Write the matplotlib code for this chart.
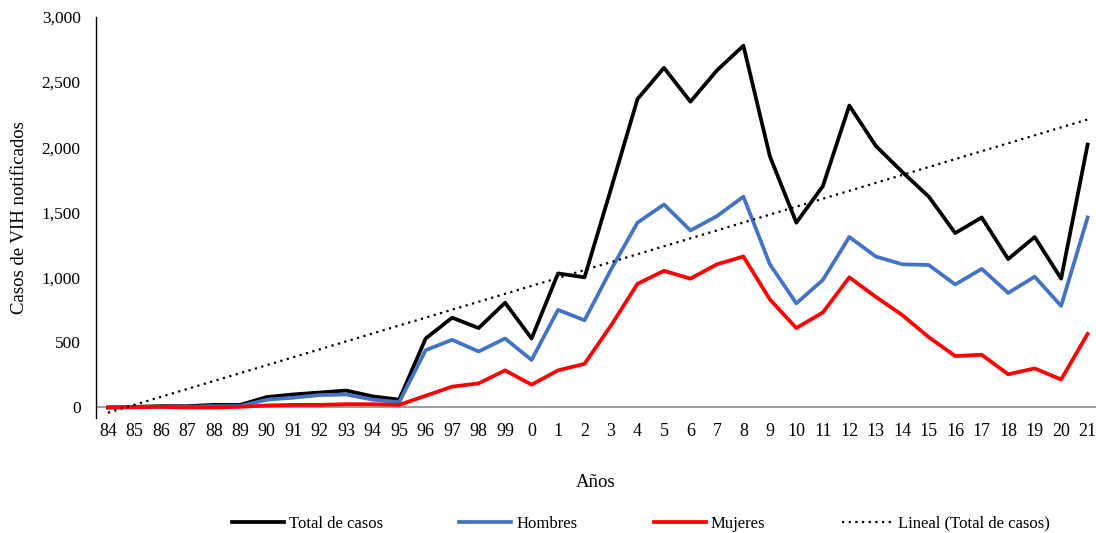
import numpy as np
import matplotlib
matplotlib.use("Agg")
import matplotlib.pyplot as plt
from matplotlib.ticker import FuncFormatter

plt.rcParams['font.family'] = ['Liberation Serif', 'DejaVu Serif']

years = ["84", "85", "86", "87", "88", "89", "90", "91", "92", "93", "94", "95",
         "96", "97", "98", "99", "0", "1", "2", "3", "4", "5", "6", "7", "8", "9",
         "10", "11", "12", "13", "14", "15", "16", "17", "18", "19", "20", "21"]

total = [0, 5, 10, 10, 20, 20, 80, 100, 115, 130, 85, 60,
         530, 690, 610, 805, 530, 1030, 1000, 1680, 2370, 2610, 2350, 2590, 2780, 1930,
         1420, 1700, 2320, 2010, 1810, 1620, 1340, 1460, 1140, 1310, 990, 2020]

hombres = [0, 3, 5, 5, 10, 10, 60, 75, 95, 100, 60, 40,
           440, 520, 430, 530, 365, 750, 670, 1060, 1420, 1560, 1360, 1470, 1620, 1100,
           800, 980, 1310, 1160, 1100, 1095, 945, 1065, 880, 1005, 780, 1460]

mujeres = [0, 2, 5, 0, 0, 5, 15, 20, 20, 25, 25, 20,
           90, 160, 185, 285, 175, 285, 335, 630, 950, 1050, 990, 1100, 1160, 830,
           610, 730, 1000, 850, 710, 540, 395, 405, 255, 300, 215, 565]

x = np.arange(len(years))
coef = np.polyfit(x, total, 1)
trend = np.polyval(coef, x)

fig = plt.figure(figsize=(10.96, 5.33), dpi=100)
ax = fig.add_axes([0.0876, 0.216, 0.912, 0.752])

ax.axhline(0, color='#8c8c8c', lw=1.2, zorder=1)
ax.plot(x, total, color='black', lw=2.7, label='Total de casos', zorder=3)
ax.plot(x, hombres, color='#4472C4', lw=2.7, label='Hombres', zorder=3)
ax.plot(x, mujeres, color='#FF0000', lw=2.7, label='Mujeres', zorder=3)
ax.plot(x, trend, color='black', lw=1.6, linestyle=(0, (1, 2)), label='Lineal (Total de casos)', zorder=4)

ax.set_xlim(-0.45, 37.3)
ax.set_ylim(-80, 3000)
ax.set_yticks([0, 500, 1000, 1500, 2000, 2500, 3000])
ax.yaxis.set_major_formatter(FuncFormatter(lambda v, p: f"{int(v):,}"))
ax.set_xticks(x)
ax.set_xticklabels(years)
ax.tick_params(axis='x', length=0, pad=4, labelsize=13)
ax.tick_params(axis='y', length=0, pad=11, labelsize=12.5)
for s in ['top', 'right', 'bottom']:
    ax.spines[s].set_visible(False)
ax.spines['left'].set_color('black')
ax.spines['left'].set_linewidth(1.0)

ax.set_ylabel('Casos de VIH notificados', fontsize=13.5, labelpad=10)
ax.set_xlabel('Años', fontsize=13.5, labelpad=24)

fig.legend(loc='lower center', bbox_to_anchor=(0.585, -0.026), ncol=4, frameon=False,
           fontsize=12, handlelength=3.1, handletextpad=0.3, columnspacing=4.6)

fig.savefig('out.png', dpi=100)
